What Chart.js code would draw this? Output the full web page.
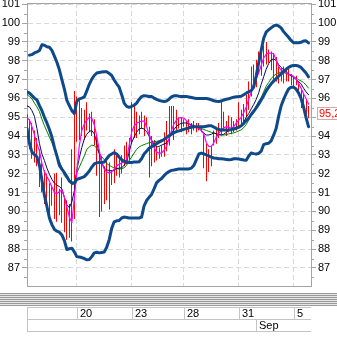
<!DOCTYPE html>
<html>
<head>
<meta charset="utf-8">
<script src="https://cdn.jsdelivr.net/npm/chart.js@4/dist/chart.umd.min.js"></script>
<style>
  html, body { margin: 0; padding: 0; background: #fff; }
  #chart { display: block; }
</style>
</head>
<body>
<canvas id="chart" width="337" height="341"></canvas>
<script>
// bar ranges (high / low), one entry per period
const highs = [
  95.15, 94.9, 94.7, 94.3, 93.9, 93.3, 92.6, 92.2, 92.0, 91.5,
  91.4, 92.0, 92.05, 91.2, 91.8, 90.7, 90.6, 90.4, 93.3, 96.4,
  96.1, 95.9, 95.5, 95.4, 95.8, 95.2, 95.3, 94.9, 94.1, 93.2,
  92.9, 92.4, 92.7, 92.6, 92.2, 93.3, 93.1, 92.9, 93.0, 93.5,
  93.7, 93.9, 95.8, 95.7, 95.3, 95.1, 95.3, 95.1, 95.0, 94.5,
  94.0, 93.8, 93.5, 93.4, 93.5, 94.2, 94.8, 95.6, 95.6, 95.6,
  95.4, 95.0, 95.0, 94.9, 94.8, 94.9, 94.7, 94.8, 94.7, 94.7,
  94.5, 94.1, 93.6, 93.3, 93.5, 94.3, 94.5, 94.7, 95.8, 95.3,
  94.8, 95.1, 95.0, 94.8, 94.9, 95.8, 95.4, 95.7, 96.2, 96.9,
  97.7, 97.8, 98.05, 98.5, 98.7, 98.8, 99.0, 98.6, 98.5, 98.4,
  98.2, 97.7, 97.6, 97.7, 97.5, 97.6, 97.3, 97.2, 97.2, 96.9,
  96.5, 96.3, 95.9, 95.6
];
const lows = [
  93.9, 93.3, 92.8, 92.6, 92.4, 91.3, 91.0, 90.4, 90.5, 89.6,
  90.3, 89.6, 89.45, 89.8, 89.4, 88.9, 88.5, 88.6, 88.4, 89.6,
  93.7, 93.8, 94.0, 93.8, 94.3, 94.2, 94.0, 93.5, 91.9, 89.7,
  90.0, 90.4, 90.6, 90.1, 91.4, 91.5, 91.9, 91.8, 92.0, 92.4,
  92.5, 92.7, 93.6, 93.9, 93.9, 94.1, 94.4, 94.0, 94.5, 91.8,
  92.4, 92.6, 92.7, 92.8, 92.9, 92.9, 93.2, 93.5, 94.0, 93.8,
  94.3, 94.4, 94.2, 94.5, 94.1, 94.2, 94.1, 94.3, 94.2, 94.3,
  94.2, 92.3, 91.6, 92.1, 92.4, 93.5, 93.6, 93.9, 94.1, 94.3,
  94.0, 94.2, 94.1, 94.2, 94.3, 94.4, 94.6, 94.7, 95.0, 95.4,
  96.1, 96.5, 96.6, 97.3, 97.2, 97.7, 97.8, 97.9, 97.5, 97.0,
  96.9, 96.8, 96.9, 96.8, 96.9, 96.9, 96.7, 96.6, 96.7, 96.2,
  95.5, 95.4, 95.1, 94.95
];

// bollinger bands
const bandUpper = [
  null, 98.3, 98.33, 98.42, 98.47, 98.55, 98.85, 98.83, 98.75, 98.72,
  98.55, 98.25, 97.92, 97.52, 97.0, 96.5, 95.9, 95.62, 95.35, 95.2,
  95.85, 95.98, 96.02, 96.08, 96.4, 96.75, 97.03, 97.22, 97.35, 97.38,
  97.4, 97.42, 97.42, 97.33, 97.22, 96.98, 96.78, 96.6, 96.2, 95.75,
  95.58, 95.53, 95.58, 95.64, 95.75, 95.95, 96.1, 96.15, 96.13, 96.1,
  96.1, 96.02, 95.95, 95.9, 95.86, 95.84, 95.86, 95.96, 96.08, 96.14,
  96.15, 96.12, 96.1, 96.1, 96.1, 96.08, 96.05, 96.02, 96.0, 96.0,
  96.0, 96.0, 96.0, 95.97, 95.93, 95.88, 95.85, 95.84, 95.86, 95.92,
  95.96, 95.98, 96.03, 96.07, 96.09, 96.1, 96.12, 96.2, 96.28, 96.35,
  96.42, 96.6, 97.2, 97.9, 98.55, 99.2, 99.52, 99.65, 99.75, 99.85,
  99.9, 99.85, 99.75, 99.55, 99.4, 99.25, 99.08, 98.96, 98.96, 98.96,
  98.98, 99.05, 99.06, 98.95
];
const bandMiddle = [
  96.35, 96.28, 96.15, 96.02, 95.92, 95.62, 95.35, 95.0, 94.7, 94.35,
  93.95, 93.4, 92.95, 92.45, 92.25, 92.06, 91.85, 91.62, 91.52, 91.5,
  91.7, 91.75, 91.8, 91.85, 91.98, 92.15, 92.35, 92.52, 92.58, 92.6,
  92.6, 92.62, 92.8, 92.97, 93.05, 93.12, 93.05, 92.88, 92.75, 92.66,
  92.62, 92.6, 92.6, 92.62, 92.63, 92.64, 92.8, 93.05, 93.2, 93.35,
  93.44, 93.52, 93.6, 93.68, 93.75, 93.82, 93.92, 94.02, 94.1, 94.18,
  94.24, 94.28, 94.32, 94.36, 94.4, 94.44, 94.47, 94.5, 94.5, 94.5,
  94.5, 94.5, 94.52, 94.55, 94.55, 94.48, 94.4, 94.35, 94.33, 94.33,
  94.33, 94.33, 94.35, 94.38, 94.42, 94.47, 94.55, 94.68, 94.82, 94.95,
  95.15, 95.32, 95.5, 95.7, 95.92, 96.15, 96.4, 96.6, 96.78, 96.92,
  97.05, 97.18, 97.3, 97.42, 97.55, 97.65, 97.72, 97.75, 97.75, 97.72,
  97.65, 97.5, 97.35, 97.15
];
const bandLower = [
  94.4, 93.6, 93.15, 93.02, 92.9, 92.45, 91.65, 90.85, 90.26, 89.65,
  89.3, 89.05, 88.95, 88.9, 88.75, 88.45, 87.98, 88.02, 88.05, 87.85,
  87.6, 87.58, 87.55, 87.5, 87.43, 87.45, 87.6, 87.8, 87.83, 87.8,
  87.82, 87.84, 88.1, 88.5, 89.1, 89.45, 89.5, 89.52, 89.65, 89.7,
  89.68, 89.65, 89.65, 89.65, 89.65, 89.65, 89.7, 90.3, 90.58, 90.75,
  90.9, 91.2, 91.52, 91.65, 91.75, 91.9, 92.03, 92.12, 92.18, 92.2,
  92.23, 92.26, 92.26, 92.26, 92.26, 92.26, 92.3, 92.45, 92.75, 93.05,
  93.1, 93.06, 93.0, 92.95, 92.88, 92.84, 92.82, 92.8, 92.8, 92.78,
  92.76, 92.74, 92.76, 92.8, 92.8, 92.78, 92.76, 92.73, 92.72, 92.95,
  93.1, 93.07, 93.05, 93.08, 93.2, 93.55, 93.6, 93.62, 93.75, 94.05,
  94.4, 95.05, 95.6, 95.95, 96.25, 96.5, 96.6, 96.6, 96.5, 96.3,
  96.0, 95.55, 95.0, 94.5
];

// moving averages
const maFast = [
  94.97, 94.86, 94.5, 94.05, 93.6, 93.2, 92.55, 92.1, 91.85, 91.6,
  91.3, 91.0, 90.95, 91.05, 91.15, 90.75, 90.25, 89.7, 89.4, 90.7,
  92.1, 93.5, 94.3, 94.65, 94.85, 95.0, 94.95, 94.6, 94.0, 93.25,
  92.6, 92.25, 92.1, 92.05, 92.1, 92.25, 92.42, 92.5, 92.57, 92.65,
  92.74, 93.5, 94.2, 94.55, 94.68, 94.75, 94.8, 94.8, 94.5, 94.1,
  93.75, 93.4, 93.15, 93.1, 93.1, 93.25, 93.45, 93.85, 94.3, 94.65,
  94.85, 94.97, 94.98, 94.95, 94.82, 94.68, 94.52, 94.47, 94.45, 94.42,
  94.3, 94.1, 93.65, 93.45, 93.45, 93.65, 93.95, 94.15, 94.33, 94.45,
  94.49, 94.47, 94.43, 94.5, 94.7, 94.85, 95.0, 95.25, 95.55, 95.95,
  96.35, 96.8, 97.05, 97.35, 97.75, 98.15, 98.35, 98.42, 98.4, 98.38,
  98.05, 97.7, 97.5, 97.45, 97.38, 97.3, 97.25, 97.15, 97.05, 96.8,
  96.55, 96.25, 96.0, 95.7
];
const maMid = [
  95.6, 95.55, 95.35, 95.05, 94.4, 93.6, 93.05, 92.7, 92.3, 91.98,
  91.7, 91.5, 91.4, 91.32, 91.2, 90.75, 90.35, 90.2, 90.5, 91.1,
  92.2, 92.85, 93.4, 93.85, 94.1, 94.25, 94.3, 94.12, 93.65, 93.05,
  92.6, 92.3, 92.2, 92.18, 92.15, 92.2, 92.28, 92.3, 92.32, 92.45,
  92.6, 93.15, 93.65, 93.95, 94.2, 94.38, 94.42, 94.38, 94.25, 94.0,
  93.8, 93.55, 93.42, 93.45, 93.52, 93.58, 93.63, 93.85, 94.15, 94.35,
  94.52, 94.62, 94.68, 94.7, 94.7, 94.66, 94.6, 94.55, 94.47, 94.42,
  94.3, 94.15, 94.06, 94.06, 94.1, 94.17, 94.12, 94.08, 94.06, 94.1,
  94.2, 94.3, 94.35, 94.4, 94.45, 94.48, 94.55, 94.75, 95.0, 95.2,
  95.45, 95.68, 95.95, 96.3, 96.75, 97.15, 97.55, 97.85, 98.05, 98.1,
  98.02, 97.8, 97.65, 97.52, 97.42, 97.3, 97.2, 97.12, 97.02, 96.9,
  96.78, 96.55, 96.35, 96.2
];
const maSlow = [
  96.2, 96.1, 95.98, 95.75, 95.55, 95.3, 94.9, 94.55, 94.25, 93.95,
  93.65, 93.32, 93.0, 92.65, 92.35, 91.9, 91.75, 91.6, 91.4, 91.5,
  92.05, 92.35, 92.65, 92.95, 93.3, 93.42, 93.52, 93.5, 93.35, 93.1,
  92.9, 92.75, 92.55, 92.45, 92.38, 92.3, 92.28, 92.25, 92.27, 92.32,
  92.45, 92.7, 92.9, 93.1, 93.3, 93.42, 93.5, 93.55, 93.6, 93.65,
  93.68, 93.7, 93.72, 93.75, 93.8, 93.85, 93.92, 94.0, 94.08, 94.15,
  94.22, 94.28, 94.35, 94.4, 94.43, 94.46, 94.48, 94.49, 94.48, 94.45,
  94.4, 94.35, 94.3, 94.25, 94.2, 94.17, 94.12, 94.08, 94.06, 94.06,
  94.08, 94.12, 94.15, 94.17, 94.22, 94.28, 94.33, 94.45, 94.62, 94.85,
  95.1, 95.35, 95.6, 95.85, 96.05, 96.35, 96.65, 96.85, 97.05, 97.2,
  97.3, 97.38, 97.4, 97.38, 97.33, 97.28, 97.22, 97.15, 97.08, 97.0,
  96.93, 96.85, 96.72, 96.55
];

const yTicks = [87, 88, 89, 90, 91, 92, 93, 94, 95, 96, 97, 98, 99, 100, 101];
const dayTickIdx = [20, 42, 63, 85, 107];
const dayLabels = ['20', '23', '28', '31', '5'];
const monthIdx = [92];
const monthLabels = ['Sep'];
const lastClose = 95.2;
const slotCount = 114;

const FONT = "'Liberation Sans', Arial, sans-serif";
const GRID = '#d9d9d9';
const FRAME = '#a4a4a4';
const BAND = '#0e4a8a';

const xy = arr => arr.map((v, i) => ({ x: i, y: v }));

function yAxis(position) {
  return {
    type: 'linear',
    position,
    min: 86.04,
    max: 101.07,
    afterBuildTicks: s => { s.ticks = yTicks.map(v => ({ value: v })); },
    afterFit: s => {
      s.width = position === 'left' ? 27 : 26;
      s.paddingTop = 0;
      s.paddingBottom = 0;
    },
    ticks: {
      autoSkip: false,
      color: '#000',
      padding: 2,
      font: { family: FONT, size: 11 },
      callback: v => String(v)
    },
    grid: {
      color: GRID,
      drawOnChartArea: position === 'left',
      tickLength: 5,
      tickColor: FRAME
    },
    border: { color: FRAME, dash: [5, 3] }
  };
}

// keep the 1px price bars on whole pixels so they stay solid red
const crispBars = {
  id: 'crispBars',
  beforeDatasetsDraw(chart) {
    chart.getDatasetMeta(0).data.forEach(el => { el.x = Math.round(el.x - 0.5) + 0.5; });
  }
};

// frame, half-unit ticks, time strip and last price tag
const extras = {
  id: 'extras',
  afterDraw(chart) {
    const { ctx, chartArea: a, scales } = chart;
    const xs = scales.x;
    const px = v => Math.round(v) + 0.5;
    const hline = (x1, x2, y, c) => { ctx.strokeStyle = c; ctx.beginPath(); ctx.moveTo(x1, px(y)); ctx.lineTo(x2, px(y)); ctx.stroke(); };
    const vline = (x, y1, y2, c) => { ctx.strokeStyle = c; ctx.beginPath(); ctx.moveTo(px(x), y1); ctx.lineTo(px(x), y2); ctx.stroke(); };

    ctx.save();
    ctx.lineWidth = 1;
    hline(a.left, a.right + 1, a.top, FRAME);

    // minor ticks at the half units
    for (let k = 0; k <= yTicks.length; k++) {
      const v = k < yTicks.length ? yTicks[k] - 0.5 : yTicks[k - 1] + 0.5;
      if (v < scales.y.min || v > scales.y.max) continue;
      const yl = scales.y.getPixelForValue(v);
      hline(a.left - 3, a.left, yl, FRAME);
      hline(a.right, a.right + 3, yl, FRAME);
    }

    // splitter between the panes
    const sTop = a.bottom + 7;
    for (let k = 0; k < 13; k++) {
      ctx.fillStyle = k % 2 ? '#e6e6e6' : '#9a9a9a';
      ctx.fillRect(0, sTop + k, chart.width, 1);
    }

    // date strip
    const top = a.bottom + 21, rowH = 12;
    const LINE = '#c4c4c4';
    hline(a.left, a.right, top, LINE);
    hline(a.left, a.right, top + rowH, LINE);
    hline(a.left, a.right, top + rowH * 2, LINE);
    vline(a.left, top, top + rowH * 2, LINE);
    ctx.font = '11px ' + FONT;
    ctx.fillStyle = '#000';
    ctx.textBaseline = 'middle';
    ctx.textAlign = 'left';
    dayTickIdx.forEach((idx, j) => {
      const x = xs.getPixelForValue(idx);
      vline(x, top, top + rowH, LINE);
      ctx.fillText(dayLabels[j], Math.round(x) + 3, top + rowH / 2 + 1);
    });
    monthIdx.forEach((idx, j) => {
      const x = xs.getPixelForValue(idx);
      vline(x, top + rowH, top + rowH * 2, LINE);
      ctx.fillText(monthLabels[j], Math.round(x) + 3, top + rowH * 1.5 + 1);
    });

    // last price tag on the right axis
    const ly = Math.round(scales.y2.getPixelForValue(lastClose));
    ctx.fillStyle = '#fff';
    ctx.fillRect(a.right + 6, ly - 7, 26, 13);
    ctx.strokeStyle = '#d8a8a8';
    ctx.strokeRect(a.right + 6.5, ly - 6.5, 26, 12);
    ctx.fillStyle = '#ff0000';
    ctx.fillText(lastClose.toFixed(1).replace('.', ','), a.right + 8, ly);
    ctx.restore();
  }
};

const lineSet = (data, color, width, order) => ({
  type: 'line', data: xy(data), borderColor: color, borderWidth: width,
  pointRadius: 0, tension: 0, fill: false, order, spanGaps: false
});

new Chart(document.getElementById('chart'), {
  type: 'bar',
  data: {
    datasets: [
      {
        type: 'bar',
        data: highs.map((h, i) => ({ x: i, y: [lows[i], h] })),
        backgroundColor: '#ff0000',
        borderWidth: 0,
        barThickness: 1,
        inflateAmount: 0,
        grouped: false,
        order: 10
      },
      lineSet(maSlow, '#008000', 1, 6),
      lineSet(maMid, '#0a0a50', 1, 5),
      lineSet(maFast, '#ff00ff', 1.2, 4),
      lineSet(bandLower, BAND, 3, 1),
      lineSet(bandMiddle, BAND, 3, 1),
      lineSet(bandUpper, BAND, 3, 1)
    ]
  },
  options: {
    responsive: false,
    animation: false,
    devicePixelRatio: 1,
    layout: { padding: { top: 3, bottom: 55, left: 0, right: 0 } },
    plugins: { legend: { display: false }, tooltip: { enabled: false } },
    elements: { line: { borderJoinStyle: 'round', borderCapStyle: 'round' } },
    scales: {
      x: {
        type: 'linear',
        min: 0,
        max: slotCount,
        offset: false,
        afterBuildTicks: s => { s.ticks = dayTickIdx.map(v => ({ value: v })); },
        afterFit: s => { s.height = 0; },
        ticks: { display: false },
        grid: { color: GRID, drawTicks: false, offset: false },
        border: { color: FRAME, dash: [5, 3] }
      },
      y: yAxis('left'),
      y2: yAxis('right')
    }
  },
  plugins: [crispBars, extras]
});
</script>
</body>
</html>
